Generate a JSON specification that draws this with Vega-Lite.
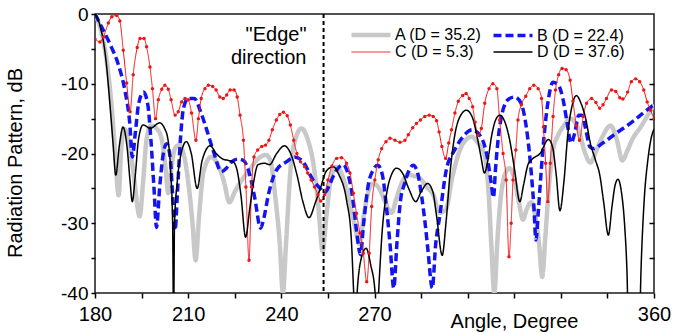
{
  "$schema": "https://vega.github.io/schema/vega-lite/v6.json",
  "width": 559,
  "height": 279,
  "autosize": {"type": "none"},
  "padding": {"left": 95, "top": 14, "right": 35, "bottom": 40},
  "background": "white",
  "config": {
    "font": "Liberation Sans",
    "view": {"stroke": "#1a1a1a", "strokeWidth": 1.5},
    "axis": {"labelColor": "black", "titleColor": "black", "tickColor": "black", "labelFont": "Liberation Sans", "titleFont": "Liberation Sans"}
  },
  "datasets": {
    "curves": [
      {"series": "A (D = 35.2)", "angle": 180, "dB": 0},
      {"series": "A (D = 35.2)", "angle": 182, "dB": -2.5},
      {"series": "A (D = 35.2)", "angle": 184, "dB": -7.5},
      {"series": "A (D = 35.2)", "angle": 185.5, "dB": -14},
      {"series": "A (D = 35.2)", "angle": 186.5, "dB": -20},
      {"series": "A (D = 35.2)", "angle": 187.6, "dB": -26},
      {"series": "A (D = 35.2)", "angle": 188.5, "dB": -19},
      {"series": "A (D = 35.2)", "angle": 189.5, "dB": -16.5},
      {"series": "A (D = 35.2)", "angle": 190.7, "dB": -18},
      {"series": "A (D = 35.2)", "angle": 192.3, "dB": -22.5},
      {"series": "A (D = 35.2)", "angle": 194.4, "dB": -29},
      {"series": "A (D = 35.2)", "angle": 195.5, "dB": -24},
      {"series": "A (D = 35.2)", "angle": 196.6, "dB": -18},
      {"series": "A (D = 35.2)", "angle": 198, "dB": -16},
      {"series": "A (D = 35.2)", "angle": 200, "dB": -16.5},
      {"series": "A (D = 35.2)", "angle": 201.5, "dB": -18},
      {"series": "A (D = 35.2)", "angle": 202.7, "dB": -22},
      {"series": "A (D = 35.2)", "angle": 203.6, "dB": -25.7},
      {"series": "A (D = 35.2)", "angle": 204.6, "dB": -22},
      {"series": "A (D = 35.2)", "angle": 205.7, "dB": -19.3},
      {"series": "A (D = 35.2)", "angle": 207, "dB": -18.8},
      {"series": "A (D = 35.2)", "angle": 208.5, "dB": -20},
      {"series": "A (D = 35.2)", "angle": 210, "dB": -24},
      {"series": "A (D = 35.2)", "angle": 211.4, "dB": -30},
      {"series": "A (D = 35.2)", "angle": 212.4, "dB": -35.3},
      {"series": "A (D = 35.2)", "angle": 213.5, "dB": -29},
      {"series": "A (D = 35.2)", "angle": 215, "dB": -22.5},
      {"series": "A (D = 35.2)", "angle": 217.4, "dB": -20.5},
      {"series": "A (D = 35.2)", "angle": 219.5, "dB": -21.5},
      {"series": "A (D = 35.2)", "angle": 221.5, "dB": -24},
      {"series": "A (D = 35.2)", "angle": 223.3, "dB": -27},
      {"series": "A (D = 35.2)", "angle": 225, "dB": -25.5},
      {"series": "A (D = 35.2)", "angle": 227, "dB": -24},
      {"series": "A (D = 35.2)", "angle": 229.5, "dB": -22.5},
      {"series": "A (D = 35.2)", "angle": 232, "dB": -21},
      {"series": "A (D = 35.2)", "angle": 235, "dB": -20.2},
      {"series": "A (D = 35.2)", "angle": 236.5, "dB": -21},
      {"series": "A (D = 35.2)", "angle": 238, "dB": -26},
      {"series": "A (D = 35.2)", "angle": 239.5, "dB": -33},
      {"series": "A (D = 35.2)", "angle": 240.5, "dB": -40},
      {"series": "A (D = 35.2)", "angle": 241.5, "dB": -33},
      {"series": "A (D = 35.2)", "angle": 243, "dB": -22},
      {"series": "A (D = 35.2)", "angle": 244.5, "dB": -18},
      {"series": "A (D = 35.2)", "angle": 246.5, "dB": -16.4},
      {"series": "A (D = 35.2)", "angle": 248.5, "dB": -18},
      {"series": "A (D = 35.2)", "angle": 250.5, "dB": -22},
      {"series": "A (D = 35.2)", "angle": 252, "dB": -28},
      {"series": "A (D = 35.2)", "angle": 253.3, "dB": -34},
      {"series": "A (D = 35.2)", "angle": 254.5, "dB": -29},
      {"series": "A (D = 35.2)", "angle": 256, "dB": -23.5},
      {"series": "A (D = 35.2)", "angle": 257.8, "dB": -21.9},
      {"series": "A (D = 35.2)", "angle": 259.5, "dB": -23},
      {"series": "A (D = 35.2)", "angle": 261.5, "dB": -26},
      {"series": "A (D = 35.2)", "angle": 263.5, "dB": -30},
      {"series": "A (D = 35.2)", "angle": 265.2, "dB": -33},
      {"series": "A (D = 35.2)", "angle": 266.5, "dB": -29},
      {"series": "A (D = 35.2)", "angle": 268, "dB": -25.5},
      {"series": "A (D = 35.2)", "angle": 269.5, "dB": -24.3},
      {"series": "A (D = 35.2)", "angle": 271.5, "dB": -25},
      {"series": "A (D = 35.2)", "angle": 273.5, "dB": -27},
      {"series": "A (D = 35.2)", "angle": 275.5, "dB": -28.5},
      {"series": "A (D = 35.2)", "angle": 277, "dB": -26.5},
      {"series": "A (D = 35.2)", "angle": 279, "dB": -24},
      {"series": "A (D = 35.2)", "angle": 281, "dB": -23},
      {"series": "A (D = 35.2)", "angle": 282.5, "dB": -23.2},
      {"series": "A (D = 35.2)", "angle": 284.5, "dB": -23.5},
      {"series": "A (D = 35.2)", "angle": 286.8, "dB": -24.8},
      {"series": "A (D = 35.2)", "angle": 289, "dB": -26},
      {"series": "A (D = 35.2)", "angle": 291, "dB": -28.5},
      {"series": "A (D = 35.2)", "angle": 293, "dB": -28},
      {"series": "A (D = 35.2)", "angle": 295, "dB": -23.5},
      {"series": "A (D = 35.2)", "angle": 297.5, "dB": -19.5},
      {"series": "A (D = 35.2)", "angle": 299.5, "dB": -18},
      {"series": "A (D = 35.2)", "angle": 301.3, "dB": -17.6},
      {"series": "A (D = 35.2)", "angle": 303.3, "dB": -18.5},
      {"series": "A (D = 35.2)", "angle": 305.5, "dB": -20.3},
      {"series": "A (D = 35.2)", "angle": 306.8, "dB": -26},
      {"series": "A (D = 35.2)", "angle": 307.6, "dB": -33},
      {"series": "A (D = 35.2)", "angle": 308.6, "dB": -40},
      {"series": "A (D = 35.2)", "angle": 309.5, "dB": -33},
      {"series": "A (D = 35.2)", "angle": 310.5, "dB": -27},
      {"series": "A (D = 35.2)", "angle": 312, "dB": -23},
      {"series": "A (D = 35.2)", "angle": 313.4, "dB": -22.1},
      {"series": "A (D = 35.2)", "angle": 315, "dB": -23.5},
      {"series": "A (D = 35.2)", "angle": 316.5, "dB": -27},
      {"series": "A (D = 35.2)", "angle": 317.8, "dB": -29.5},
      {"series": "A (D = 35.2)", "angle": 319, "dB": -28},
      {"series": "A (D = 35.2)", "angle": 320.5, "dB": -27},
      {"series": "A (D = 35.2)", "angle": 321.8, "dB": -29},
      {"series": "A (D = 35.2)", "angle": 323, "dB": -33},
      {"series": "A (D = 35.2)", "angle": 324, "dB": -37.7},
      {"series": "A (D = 35.2)", "angle": 325, "dB": -32},
      {"series": "A (D = 35.2)", "angle": 326.3, "dB": -24},
      {"series": "A (D = 35.2)", "angle": 327.5, "dB": -19.5},
      {"series": "A (D = 35.2)", "angle": 329.2, "dB": -17.3},
      {"series": "A (D = 35.2)", "angle": 331, "dB": -16},
      {"series": "A (D = 35.2)", "angle": 333, "dB": -15},
      {"series": "A (D = 35.2)", "angle": 334.5, "dB": -15.5},
      {"series": "A (D = 35.2)", "angle": 336, "dB": -17},
      {"series": "A (D = 35.2)", "angle": 337.5, "dB": -19.5},
      {"series": "A (D = 35.2)", "angle": 339.5, "dB": -21.3},
      {"series": "A (D = 35.2)", "angle": 341.5, "dB": -19.5},
      {"series": "A (D = 35.2)", "angle": 343.5, "dB": -17.5},
      {"series": "A (D = 35.2)", "angle": 346, "dB": -16},
      {"series": "A (D = 35.2)", "angle": 348, "dB": -18},
      {"series": "A (D = 35.2)", "angle": 349.8, "dB": -21},
      {"series": "A (D = 35.2)", "angle": 351.5, "dB": -19.5},
      {"series": "A (D = 35.2)", "angle": 353, "dB": -18},
      {"series": "A (D = 35.2)", "angle": 356, "dB": -16},
      {"series": "A (D = 35.2)", "angle": 358, "dB": -14.5},
      {"series": "A (D = 35.2)", "angle": 360, "dB": -13},

      {"series": "B (D = 22.4)", "angle": 180, "dB": 0},
      {"series": "B (D = 22.4)", "angle": 181.5, "dB": -1.3},
      {"series": "B (D = 22.4)", "angle": 184.7, "dB": -4.2},
      {"series": "B (D = 22.4)", "angle": 187.4, "dB": -7.1},
      {"series": "B (D = 22.4)", "angle": 189.6, "dB": -10.9},
      {"series": "B (D = 22.4)", "angle": 191.2, "dB": -15.7},
      {"series": "B (D = 22.4)", "angle": 192, "dB": -20.5},
      {"series": "B (D = 22.4)", "angle": 193, "dB": -17},
      {"series": "B (D = 22.4)", "angle": 194, "dB": -13},
      {"series": "B (D = 22.4)", "angle": 195.6, "dB": -11.2},
      {"series": "B (D = 22.4)", "angle": 197, "dB": -13},
      {"series": "B (D = 22.4)", "angle": 198, "dB": -18},
      {"series": "B (D = 22.4)", "angle": 199, "dB": -25},
      {"series": "B (D = 22.4)", "angle": 199.8, "dB": -30.6},
      {"series": "B (D = 22.4)", "angle": 200.8, "dB": -25},
      {"series": "B (D = 22.4)", "angle": 202, "dB": -20},
      {"series": "B (D = 22.4)", "angle": 203.1, "dB": -18.6},
      {"series": "B (D = 22.4)", "angle": 204.3, "dB": -21},
      {"series": "B (D = 22.4)", "angle": 205, "dB": -26},
      {"series": "B (D = 22.4)", "angle": 205.8, "dB": -31},
      {"series": "B (D = 22.4)", "angle": 206.5, "dB": -26},
      {"series": "B (D = 22.4)", "angle": 207.5, "dB": -18},
      {"series": "B (D = 22.4)", "angle": 208.5, "dB": -13.5},
      {"series": "B (D = 22.4)", "angle": 210, "dB": -12.1},
      {"series": "B (D = 22.4)", "angle": 212, "dB": -12.1},
      {"series": "B (D = 22.4)", "angle": 214, "dB": -14},
      {"series": "B (D = 22.4)", "angle": 215.9, "dB": -16.5},
      {"series": "B (D = 22.4)", "angle": 218, "dB": -19.5},
      {"series": "B (D = 22.4)", "angle": 220.7, "dB": -22.6},
      {"series": "B (D = 22.4)", "angle": 222.5, "dB": -22},
      {"series": "B (D = 22.4)", "angle": 224, "dB": -21.2},
      {"series": "B (D = 22.4)", "angle": 226, "dB": -20.8},
      {"series": "B (D = 22.4)", "angle": 227.8, "dB": -21},
      {"series": "B (D = 22.4)", "angle": 229.8, "dB": -23},
      {"series": "B (D = 22.4)", "angle": 231.5, "dB": -26.5},
      {"series": "B (D = 22.4)", "angle": 233.3, "dB": -30.7},
      {"series": "B (D = 22.4)", "angle": 234.5, "dB": -29},
      {"series": "B (D = 22.4)", "angle": 235.7, "dB": -26.2},
      {"series": "B (D = 22.4)", "angle": 238.4, "dB": -22.4},
      {"series": "B (D = 22.4)", "angle": 241.6, "dB": -21.2},
      {"series": "B (D = 22.4)", "angle": 244.3, "dB": -20.5},
      {"series": "B (D = 22.4)", "angle": 247, "dB": -21.2},
      {"series": "B (D = 22.4)", "angle": 250.2, "dB": -23.8},
      {"series": "B (D = 22.4)", "angle": 252.5, "dB": -25},
      {"series": "B (D = 22.4)", "angle": 254, "dB": -25.6},
      {"series": "B (D = 22.4)", "angle": 255.5, "dB": -24.5},
      {"series": "B (D = 22.4)", "angle": 257, "dB": -23},
      {"series": "B (D = 22.4)", "angle": 259.9, "dB": -21.6},
      {"series": "B (D = 22.4)", "angle": 261.5, "dB": -23},
      {"series": "B (D = 22.4)", "angle": 263, "dB": -26.5},
      {"series": "B (D = 22.4)", "angle": 264.2, "dB": -31},
      {"series": "B (D = 22.4)", "angle": 265.5, "dB": -34.5},
      {"series": "B (D = 22.4)", "angle": 266.5, "dB": -30},
      {"series": "B (D = 22.4)", "angle": 268, "dB": -24.5},
      {"series": "B (D = 22.4)", "angle": 269.5, "dB": -22.4},
      {"series": "B (D = 22.4)", "angle": 271, "dB": -21.7},
      {"series": "B (D = 22.4)", "angle": 272.5, "dB": -23},
      {"series": "B (D = 22.4)", "angle": 273.8, "dB": -27.5},
      {"series": "B (D = 22.4)", "angle": 275, "dB": -33},
      {"series": "B (D = 22.4)", "angle": 276.2, "dB": -39.3},
      {"series": "B (D = 22.4)", "angle": 277.2, "dB": -33},
      {"series": "B (D = 22.4)", "angle": 278.3, "dB": -27},
      {"series": "B (D = 22.4)", "angle": 279.7, "dB": -24.3},
      {"series": "B (D = 22.4)", "angle": 282.5, "dB": -21.7},
      {"series": "B (D = 22.4)", "angle": 284, "dB": -23},
      {"series": "B (D = 22.4)", "angle": 285.2, "dB": -26.2},
      {"series": "B (D = 22.4)", "angle": 286.3, "dB": -30},
      {"series": "B (D = 22.4)", "angle": 287.2, "dB": -33.8},
      {"series": "B (D = 22.4)", "angle": 288.6, "dB": -39.3},
      {"series": "B (D = 22.4)", "angle": 289.7, "dB": -33},
      {"series": "B (D = 22.4)", "angle": 291, "dB": -29},
      {"series": "B (D = 22.4)", "angle": 293.1, "dB": -22.4},
      {"series": "B (D = 22.4)", "angle": 295.8, "dB": -19.5},
      {"series": "B (D = 22.4)", "angle": 298.5, "dB": -17.6},
      {"series": "B (D = 22.4)", "angle": 301.5, "dB": -16.6},
      {"series": "B (D = 22.4)", "angle": 304.5, "dB": -17.8},
      {"series": "B (D = 22.4)", "angle": 306.3, "dB": -20.5},
      {"series": "B (D = 22.4)", "angle": 307.5, "dB": -24},
      {"series": "B (D = 22.4)", "angle": 308.3, "dB": -26.3},
      {"series": "B (D = 22.4)", "angle": 309, "dB": -22},
      {"series": "B (D = 22.4)", "angle": 310.3, "dB": -16.2},
      {"series": "B (D = 22.4)", "angle": 312.9, "dB": -12.3},
      {"series": "B (D = 22.4)", "angle": 315.1, "dB": -11.9},
      {"series": "B (D = 22.4)", "angle": 317.2, "dB": -12.8},
      {"series": "B (D = 22.4)", "angle": 318.8, "dB": -16},
      {"series": "B (D = 22.4)", "angle": 319.9, "dB": -20},
      {"series": "B (D = 22.4)", "angle": 321.3, "dB": -27.5},
      {"series": "B (D = 22.4)", "angle": 322, "dB": -32.4},
      {"series": "B (D = 22.4)", "angle": 322.8, "dB": -28},
      {"series": "B (D = 22.4)", "angle": 323.6, "dB": -23},
      {"series": "B (D = 22.4)", "angle": 324.5, "dB": -18},
      {"series": "B (D = 22.4)", "angle": 325.8, "dB": -12.8},
      {"series": "B (D = 22.4)", "angle": 327.5, "dB": -9.8},
      {"series": "B (D = 22.4)", "angle": 329.2, "dB": -10.2},
      {"series": "B (D = 22.4)", "angle": 330.6, "dB": -12},
      {"series": "B (D = 22.4)", "angle": 332, "dB": -15.5},
      {"series": "B (D = 22.4)", "angle": 333.3, "dB": -18.5},
      {"series": "B (D = 22.4)", "angle": 334.5, "dB": -17},
      {"series": "B (D = 22.4)", "angle": 335.8, "dB": -14.5},
      {"series": "B (D = 22.4)", "angle": 336.8, "dB": -14.5},
      {"series": "B (D = 22.4)", "angle": 338, "dB": -16.5},
      {"series": "B (D = 22.4)", "angle": 339.3, "dB": -19},
      {"series": "B (D = 22.4)", "angle": 340.5, "dB": -19.3},
      {"series": "B (D = 22.4)", "angle": 343.5, "dB": -18.5},
      {"series": "B (D = 22.4)", "angle": 347.8, "dB": -17.1},
      {"series": "B (D = 22.4)", "angle": 353.2, "dB": -15.4},
      {"series": "B (D = 22.4)", "angle": 356.5, "dB": -14.2},
      {"series": "B (D = 22.4)", "angle": 360, "dB": -13},

      {"series": "C (D = 5.3)", "angle": 180, "dB": -3.6},
      {"series": "C (D = 5.3)", "angle": 181.6, "dB": -4},
      {"series": "C (D = 5.3)", "angle": 182.7, "dB": -3.3},
      {"series": "C (D = 5.3)", "angle": 184.3, "dB": -1.3},
      {"series": "C (D = 5.3)", "angle": 185.4, "dB": -0.4},
      {"series": "C (D = 5.3)", "angle": 187, "dB": -0.2},
      {"series": "C (D = 5.3)", "angle": 188, "dB": -1},
      {"series": "C (D = 5.3)", "angle": 189.1, "dB": -5.2},
      {"series": "C (D = 5.3)", "angle": 190.2, "dB": -9.9},
      {"series": "C (D = 5.3)", "angle": 191.3, "dB": -14},
      {"series": "C (D = 5.3)", "angle": 192.3, "dB": -8.7},
      {"series": "C (D = 5.3)", "angle": 193.6, "dB": -4.8},
      {"series": "C (D = 5.3)", "angle": 194.5, "dB": -3.5},
      {"series": "C (D = 5.3)", "angle": 195.8, "dB": -3.5},
      {"series": "C (D = 5.3)", "angle": 196.6, "dB": -4.7},
      {"series": "C (D = 5.3)", "angle": 197.7, "dB": -7.6},
      {"series": "C (D = 5.3)", "angle": 198.5, "dB": -10.7},
      {"series": "C (D = 5.3)", "angle": 199.5, "dB": -15},
      {"series": "C (D = 5.3)", "angle": 200.4, "dB": -12.3},
      {"series": "C (D = 5.3)", "angle": 201.5, "dB": -10.8},
      {"series": "C (D = 5.3)", "angle": 202.5, "dB": -10.2},
      {"series": "C (D = 5.3)", "angle": 203.6, "dB": -10.8},
      {"series": "C (D = 5.3)", "angle": 204.5, "dB": -12.3},
      {"series": "C (D = 5.3)", "angle": 205.8, "dB": -14.5},
      {"series": "C (D = 5.3)", "angle": 206.8, "dB": -14},
      {"series": "C (D = 5.3)", "angle": 207.9, "dB": -12.6},
      {"series": "C (D = 5.3)", "angle": 209, "dB": -12.1},
      {"series": "C (D = 5.3)", "angle": 210, "dB": -12.3},
      {"series": "C (D = 5.3)", "angle": 211.1, "dB": -14.2},
      {"series": "C (D = 5.3)", "angle": 212.5, "dB": -18.1},
      {"series": "C (D = 5.3)", "angle": 213.3, "dB": -15},
      {"series": "C (D = 5.3)", "angle": 214.2, "dB": -12.1},
      {"series": "C (D = 5.3)", "angle": 215.4, "dB": -10.7},
      {"series": "C (D = 5.3)", "angle": 216.5, "dB": -10.2},
      {"series": "C (D = 5.3)", "angle": 217.9, "dB": -10.4},
      {"series": "C (D = 5.3)", "angle": 219, "dB": -10.9},
      {"series": "C (D = 5.3)", "angle": 220.2, "dB": -11.9},
      {"series": "C (D = 5.3)", "angle": 221.3, "dB": -12.1},
      {"series": "C (D = 5.3)", "angle": 222.4, "dB": -11.6},
      {"series": "C (D = 5.3)", "angle": 223.5, "dB": -10.9},
      {"series": "C (D = 5.3)", "angle": 224.8, "dB": -10.9},
      {"series": "C (D = 5.3)", "angle": 225.8, "dB": -11.9},
      {"series": "C (D = 5.3)", "angle": 226.7, "dB": -14.5},
      {"series": "C (D = 5.3)", "angle": 227.8, "dB": -18.1},
      {"series": "C (D = 5.3)", "angle": 228.6, "dB": -24.8},
      {"series": "C (D = 5.3)", "angle": 229.6, "dB": -35.3},
      {"series": "C (D = 5.3)", "angle": 230.4, "dB": -24.8},
      {"series": "C (D = 5.3)", "angle": 231.2, "dB": -20.5},
      {"series": "C (D = 5.3)", "angle": 232.4, "dB": -19.5},
      {"series": "C (D = 5.3)", "angle": 233.7, "dB": -19},
      {"series": "C (D = 5.3)", "angle": 234.9, "dB": -18.8},
      {"series": "C (D = 5.3)", "angle": 236, "dB": -18.1},
      {"series": "C (D = 5.3)", "angle": 237.1, "dB": -16.6},
      {"series": "C (D = 5.3)", "angle": 238.4, "dB": -15.2},
      {"series": "C (D = 5.3)", "angle": 239.5, "dB": -14.4},
      {"series": "C (D = 5.3)", "angle": 240.7, "dB": -14.1},
      {"series": "C (D = 5.3)", "angle": 241.9, "dB": -14.6},
      {"series": "C (D = 5.3)", "angle": 242.9, "dB": -15.9},
      {"series": "C (D = 5.3)", "angle": 244, "dB": -18.1},
      {"series": "C (D = 5.3)", "angle": 245, "dB": -20},
      {"series": "C (D = 5.3)", "angle": 246.2, "dB": -21.2},
      {"series": "C (D = 5.3)", "angle": 247.5, "dB": -21.9},
      {"series": "C (D = 5.3)", "angle": 248.5, "dB": -22.8},
      {"series": "C (D = 5.3)", "angle": 249.6, "dB": -23.8},
      {"series": "C (D = 5.3)", "angle": 250.7, "dB": -24.8},
      {"series": "C (D = 5.3)", "angle": 251.8, "dB": -25.9},
      {"series": "C (D = 5.3)", "angle": 252.7, "dB": -26.8},
      {"series": "C (D = 5.3)", "angle": 253.9, "dB": -25.9},
      {"series": "C (D = 5.3)", "angle": 255, "dB": -23.8},
      {"series": "C (D = 5.3)", "angle": 256.3, "dB": -21.8},
      {"series": "C (D = 5.3)", "angle": 257.8, "dB": -20.7},
      {"series": "C (D = 5.3)", "angle": 259.4, "dB": -20.6},
      {"series": "C (D = 5.3)", "angle": 261, "dB": -21.4},
      {"series": "C (D = 5.3)", "angle": 262.1, "dB": -22.8},
      {"series": "C (D = 5.3)", "angle": 263.2, "dB": -25.7},
      {"series": "C (D = 5.3)", "angle": 264.2, "dB": -28.6},
      {"series": "C (D = 5.3)", "angle": 265.3, "dB": -31.4},
      {"series": "C (D = 5.3)", "angle": 266.4, "dB": -34.3},
      {"series": "C (D = 5.3)", "angle": 267.5, "dB": -38.4},
      {"series": "C (D = 5.3)", "angle": 268.3, "dB": -34.3},
      {"series": "C (D = 5.3)", "angle": 269.1, "dB": -27.6},
      {"series": "C (D = 5.3)", "angle": 270.1, "dB": -23.8},
      {"series": "C (D = 5.3)", "angle": 271.2, "dB": -20.9},
      {"series": "C (D = 5.3)", "angle": 272.3, "dB": -19.3},
      {"series": "C (D = 5.3)", "angle": 273.7, "dB": -18.3},
      {"series": "C (D = 5.3)", "angle": 275, "dB": -17.8},
      {"series": "C (D = 5.3)", "angle": 276.6, "dB": -18.1},
      {"series": "C (D = 5.3)", "angle": 278.2, "dB": -18.4},
      {"series": "C (D = 5.3)", "angle": 279.8, "dB": -18.1},
      {"series": "C (D = 5.3)", "angle": 280.9, "dB": -17.3},
      {"series": "C (D = 5.3)", "angle": 282.3, "dB": -16.3},
      {"series": "C (D = 5.3)", "angle": 283.5, "dB": -15.7},
      {"series": "C (D = 5.3)", "angle": 284.8, "dB": -15.2},
      {"series": "C (D = 5.3)", "angle": 286.2, "dB": -14.7},
      {"series": "C (D = 5.3)", "angle": 287.6, "dB": -14.5},
      {"series": "C (D = 5.3)", "angle": 288.9, "dB": -14.7},
      {"series": "C (D = 5.3)", "angle": 290, "dB": -15.3},
      {"series": "C (D = 5.3)", "angle": 290.8, "dB": -16.9},
      {"series": "C (D = 5.3)", "angle": 291.7, "dB": -19},
      {"series": "C (D = 5.3)", "angle": 292.9, "dB": -20.7},
      {"series": "C (D = 5.3)", "angle": 293.9, "dB": -18.5},
      {"series": "C (D = 5.3)", "angle": 294.8, "dB": -16.6},
      {"series": "C (D = 5.3)", "angle": 295.9, "dB": -14.2},
      {"series": "C (D = 5.3)", "angle": 297, "dB": -12.5},
      {"series": "C (D = 5.3)", "angle": 298.4, "dB": -11.7},
      {"series": "C (D = 5.3)", "angle": 299.5, "dB": -11.4},
      {"series": "C (D = 5.3)", "angle": 300.5, "dB": -12.1},
      {"series": "C (D = 5.3)", "angle": 301.6, "dB": -13.3},
      {"series": "C (D = 5.3)", "angle": 302.4, "dB": -15.5},
      {"series": "C (D = 5.3)", "angle": 303.3, "dB": -17.4},
      {"series": "C (D = 5.3)", "angle": 304.4, "dB": -16.4},
      {"series": "C (D = 5.3)", "angle": 305.5, "dB": -12.8},
      {"series": "C (D = 5.3)", "angle": 306.9, "dB": -10.7},
      {"series": "C (D = 5.3)", "angle": 308.1, "dB": -10},
      {"series": "C (D = 5.3)", "angle": 309.4, "dB": -10.7},
      {"series": "C (D = 5.3)", "angle": 310.3, "dB": -15.2},
      {"series": "C (D = 5.3)", "angle": 311.4, "dB": -20},
      {"series": "C (D = 5.3)", "angle": 312.4, "dB": -23.8},
      {"series": "C (D = 5.3)", "angle": 313.3, "dB": -34.8},
      {"series": "C (D = 5.3)", "angle": 314, "dB": -30},
      {"series": "C (D = 5.3)", "angle": 314.6, "dB": -23.8},
      {"series": "C (D = 5.3)", "angle": 315.5, "dB": -19.5},
      {"series": "C (D = 5.3)", "angle": 316.2, "dB": -15.2},
      {"series": "C (D = 5.3)", "angle": 317.3, "dB": -13},
      {"series": "C (D = 5.3)", "angle": 318.7, "dB": -11.8},
      {"series": "C (D = 5.3)", "angle": 320, "dB": -10.7},
      {"series": "C (D = 5.3)", "angle": 321.3, "dB": -10.2},
      {"series": "C (D = 5.3)", "angle": 322.7, "dB": -10.7},
      {"series": "C (D = 5.3)", "angle": 323.8, "dB": -12.1},
      {"series": "C (D = 5.3)", "angle": 324.4, "dB": -16.2},
      {"series": "C (D = 5.3)", "angle": 325.1, "dB": -21.4},
      {"series": "C (D = 5.3)", "angle": 325.8, "dB": -26.9},
      {"series": "C (D = 5.3)", "angle": 326.6, "dB": -21.4},
      {"series": "C (D = 5.3)", "angle": 327.5, "dB": -14.7},
      {"series": "C (D = 5.3)", "angle": 328.3, "dB": -10.9},
      {"series": "C (D = 5.3)", "angle": 329.3, "dB": -8.7},
      {"series": "C (D = 5.3)", "angle": 330.4, "dB": -7.8},
      {"series": "C (D = 5.3)", "angle": 331.7, "dB": -8},
      {"series": "C (D = 5.3)", "angle": 333, "dB": -9.5},
      {"series": "C (D = 5.3)", "angle": 333.9, "dB": -12.5},
      {"series": "C (D = 5.3)", "angle": 335, "dB": -16},
      {"series": "C (D = 5.3)", "angle": 336, "dB": -18.1},
      {"series": "C (D = 5.3)", "angle": 337.2, "dB": -14.7},
      {"series": "C (D = 5.3)", "angle": 338.3, "dB": -12.8},
      {"series": "C (D = 5.3)", "angle": 339.9, "dB": -12.1},
      {"series": "C (D = 5.3)", "angle": 341.3, "dB": -12.7},
      {"series": "C (D = 5.3)", "angle": 342.5, "dB": -13.5},
      {"series": "C (D = 5.3)", "angle": 343.6, "dB": -13},
      {"series": "C (D = 5.3)", "angle": 344.7, "dB": -12.1},
      {"series": "C (D = 5.3)", "angle": 346.3, "dB": -10.9},
      {"series": "C (D = 5.3)", "angle": 347.7, "dB": -11.1},
      {"series": "C (D = 5.3)", "angle": 349, "dB": -12},
      {"series": "C (D = 5.3)", "angle": 350, "dB": -12.2},
      {"series": "C (D = 5.3)", "angle": 351.5, "dB": -11.2},
      {"series": "C (D = 5.3)", "angle": 352.7, "dB": -9.7},
      {"series": "C (D = 5.3)", "angle": 354.1, "dB": -9.3},
      {"series": "C (D = 5.3)", "angle": 355.4, "dB": -9.7},
      {"series": "C (D = 5.3)", "angle": 356.7, "dB": -10.9},
      {"series": "C (D = 5.3)", "angle": 357.8, "dB": -12.6},
      {"series": "C (D = 5.3)", "angle": 358.9, "dB": -13.8},
      {"series": "C (D = 5.3)", "angle": 360, "dB": -15},

      {"series": "D (D = 37.6)", "angle": 180, "dB": 0},
      {"series": "D (D = 37.6)", "angle": 181.5, "dB": -1.5},
      {"series": "D (D = 37.6)", "angle": 183.5, "dB": -6.5},
      {"series": "D (D = 37.6)", "angle": 185, "dB": -14},
      {"series": "D (D = 37.6)", "angle": 185.8, "dB": -18.5},
      {"series": "D (D = 37.6)", "angle": 186.7, "dB": -23.1},
      {"series": "D (D = 37.6)", "angle": 187.8, "dB": -19},
      {"series": "D (D = 37.6)", "angle": 189, "dB": -16.2},
      {"series": "D (D = 37.6)", "angle": 190.3, "dB": -19},
      {"series": "D (D = 37.6)", "angle": 191.3, "dB": -24},
      {"series": "D (D = 37.6)", "angle": 192, "dB": -26.9},
      {"series": "D (D = 37.6)", "angle": 193, "dB": -23},
      {"series": "D (D = 37.6)", "angle": 194, "dB": -18},
      {"series": "D (D = 37.6)", "angle": 195.5, "dB": -15.9},
      {"series": "D (D = 37.6)", "angle": 197.8, "dB": -16.4},
      {"series": "D (D = 37.6)", "angle": 200.8, "dB": -15.6},
      {"series": "D (D = 37.6)", "angle": 202.5, "dB": -16.5},
      {"series": "D (D = 37.6)", "angle": 203.5, "dB": -18},
      {"series": "D (D = 37.6)", "angle": 204.3, "dB": -22},
      {"series": "D (D = 37.6)", "angle": 205, "dB": -30},
      {"series": "D (D = 37.6)", "angle": 205.3, "dB": -45},
      {"series": "D (D = 37.6)", "angle": 205.6, "dB": -30},
      {"series": "D (D = 37.6)", "angle": 206.5, "dB": -24},
      {"series": "D (D = 37.6)", "angle": 207.5, "dB": -20.5},
      {"series": "D (D = 37.6)", "angle": 209.4, "dB": -18.3},
      {"series": "D (D = 37.6)", "angle": 211, "dB": -20},
      {"series": "D (D = 37.6)", "angle": 212.9, "dB": -25},
      {"series": "D (D = 37.6)", "angle": 214.5, "dB": -21},
      {"series": "D (D = 37.6)", "angle": 217.1, "dB": -18.9},
      {"series": "D (D = 37.6)", "angle": 219, "dB": -20},
      {"series": "D (D = 37.6)", "angle": 221.2, "dB": -20.8},
      {"series": "D (D = 37.6)", "angle": 223, "dB": -21},
      {"series": "D (D = 37.6)", "angle": 224.5, "dB": -21.2},
      {"series": "D (D = 37.6)", "angle": 225.8, "dB": -22.5},
      {"series": "D (D = 37.6)", "angle": 227, "dB": -26},
      {"series": "D (D = 37.6)", "angle": 228.5, "dB": -32},
      {"series": "D (D = 37.6)", "angle": 229.8, "dB": -28},
      {"series": "D (D = 37.6)", "angle": 231, "dB": -24.3},
      {"series": "D (D = 37.6)", "angle": 232.5, "dB": -21.6},
      {"series": "D (D = 37.6)", "angle": 234.6, "dB": -21.4},
      {"series": "D (D = 37.6)", "angle": 236.2, "dB": -21.6},
      {"series": "D (D = 37.6)", "angle": 238.5, "dB": -20},
      {"series": "D (D = 37.6)", "angle": 241, "dB": -18.9},
      {"series": "D (D = 37.6)", "angle": 243, "dB": -20},
      {"series": "D (D = 37.6)", "angle": 245, "dB": -23},
      {"series": "D (D = 37.6)", "angle": 247, "dB": -27},
      {"series": "D (D = 37.6)", "angle": 248.9, "dB": -29.2},
      {"series": "D (D = 37.6)", "angle": 251, "dB": -27},
      {"series": "D (D = 37.6)", "angle": 252.7, "dB": -24.8},
      {"series": "D (D = 37.6)", "angle": 254.5, "dB": -22.5},
      {"series": "D (D = 37.6)", "angle": 256.7, "dB": -21.9},
      {"series": "D (D = 37.6)", "angle": 258.5, "dB": -23},
      {"series": "D (D = 37.6)", "angle": 261, "dB": -26.7},
      {"series": "D (D = 37.6)", "angle": 262.5, "dB": -32},
      {"series": "D (D = 37.6)", "angle": 263.3, "dB": -40},
      {"series": "D (D = 37.6)", "angle": 263.8, "dB": -45},
      {"series": "D (D = 37.6)", "angle": 264.4, "dB": -40},
      {"series": "D (D = 37.6)", "angle": 265.5, "dB": -35.5},
      {"series": "D (D = 37.6)", "angle": 267.3, "dB": -33.6},
      {"series": "D (D = 37.6)", "angle": 268.8, "dB": -36},
      {"series": "D (D = 37.6)", "angle": 270.2, "dB": -40},
      {"series": "D (D = 37.6)", "angle": 270.7, "dB": -45},
      {"series": "D (D = 37.6)", "angle": 271.3, "dB": -40},
      {"series": "D (D = 37.6)", "angle": 272.5, "dB": -31},
      {"series": "D (D = 37.6)", "angle": 274, "dB": -25.5},
      {"series": "D (D = 37.6)", "angle": 275.5, "dB": -23},
      {"series": "D (D = 37.6)", "angle": 277.1, "dB": -22.1},
      {"series": "D (D = 37.6)", "angle": 279, "dB": -22.8},
      {"series": "D (D = 37.6)", "angle": 281, "dB": -25},
      {"series": "D (D = 37.6)", "angle": 283.3, "dB": -26.9},
      {"series": "D (D = 37.6)", "angle": 285, "dB": -25.5},
      {"series": "D (D = 37.6)", "angle": 287.1, "dB": -24.3},
      {"series": "D (D = 37.6)", "angle": 288.8, "dB": -25.5},
      {"series": "D (D = 37.6)", "angle": 290, "dB": -29},
      {"series": "D (D = 37.6)", "angle": 291.8, "dB": -34.6},
      {"series": "D (D = 37.6)", "angle": 293, "dB": -30},
      {"series": "D (D = 37.6)", "angle": 294.5, "dB": -22},
      {"series": "D (D = 37.6)", "angle": 296, "dB": -17},
      {"series": "D (D = 37.6)", "angle": 297.8, "dB": -14.5},
      {"series": "D (D = 37.6)", "angle": 299.6, "dB": -13.8},
      {"series": "D (D = 37.6)", "angle": 301.5, "dB": -14.8},
      {"series": "D (D = 37.6)", "angle": 303, "dB": -17.5},
      {"series": "D (D = 37.6)", "angle": 304.3, "dB": -20.5},
      {"series": "D (D = 37.6)", "angle": 305.4, "dB": -22.8},
      {"series": "D (D = 37.6)", "angle": 306.5, "dB": -21},
      {"series": "D (D = 37.6)", "angle": 307.7, "dB": -17.5},
      {"series": "D (D = 37.6)", "angle": 309, "dB": -15.2},
      {"series": "D (D = 37.6)", "angle": 310.4, "dB": -14.5},
      {"series": "D (D = 37.6)", "angle": 312, "dB": -15.5},
      {"series": "D (D = 37.6)", "angle": 313.5, "dB": -18},
      {"series": "D (D = 37.6)", "angle": 315, "dB": -22},
      {"series": "D (D = 37.6)", "angle": 316.8, "dB": -26.9},
      {"series": "D (D = 37.6)", "angle": 318, "dB": -24.5},
      {"series": "D (D = 37.6)", "angle": 319.5, "dB": -21.5},
      {"series": "D (D = 37.6)", "angle": 320.8, "dB": -20.8},
      {"series": "D (D = 37.6)", "angle": 323.3, "dB": -20},
      {"series": "D (D = 37.6)", "angle": 326, "dB": -18},
      {"series": "D (D = 37.6)", "angle": 327.3, "dB": -19},
      {"series": "D (D = 37.6)", "angle": 328.5, "dB": -23},
      {"series": "D (D = 37.6)", "angle": 329.7, "dB": -28.2},
      {"series": "D (D = 37.6)", "angle": 331, "dB": -24},
      {"series": "D (D = 37.6)", "angle": 332.3, "dB": -17},
      {"series": "D (D = 37.6)", "angle": 333.7, "dB": -13},
      {"series": "D (D = 37.6)", "angle": 335, "dB": -11.7},
      {"series": "D (D = 37.6)", "angle": 336.5, "dB": -12.8},
      {"series": "D (D = 37.6)", "angle": 338, "dB": -15},
      {"series": "D (D = 37.6)", "angle": 339.5, "dB": -18.5},
      {"series": "D (D = 37.6)", "angle": 341.2, "dB": -21},
      {"series": "D (D = 37.6)", "angle": 342.5, "dB": -23},
      {"series": "D (D = 37.6)", "angle": 343.8, "dB": -27},
      {"series": "D (D = 37.6)", "angle": 345.3, "dB": -31.7},
      {"series": "D (D = 37.6)", "angle": 346.5, "dB": -27.5},
      {"series": "D (D = 37.6)", "angle": 347.5, "dB": -24.5},
      {"series": "D (D = 37.6)", "angle": 348.4, "dB": -23.7},
      {"series": "D (D = 37.6)", "angle": 349.5, "dB": -25.5},
      {"series": "D (D = 37.6)", "angle": 350.5, "dB": -30},
      {"series": "D (D = 37.6)", "angle": 351.3, "dB": -37},
      {"series": "D (D = 37.6)", "angle": 351.8, "dB": -45},
      {"series": "D (D = 37.6)", "angle": 355.3, "dB": -45},
      {"series": "D (D = 37.6)", "angle": 355.8, "dB": -37},
      {"series": "D (D = 37.6)", "angle": 356.8, "dB": -27},
      {"series": "D (D = 37.6)", "angle": 358, "dB": -21},
      {"series": "D (D = 37.6)", "angle": 359, "dB": -18},
      {"series": "D (D = 37.6)", "angle": 360, "dB": -16.5}
    ]
  },
  "layer": [
    {
      "data": {"name": "curves"},
      "mark": {"type": "line", "interpolate": "monotone", "clip": true},
      "encoding": {
        "x": {
          "field": "angle", "type": "quantitative",
          "scale": {"domain": [180, 360], "nice": false, "zero": false},
          "axis": {
            "values": [180, 195, 210, 225, 240, 255, 270, 285, 300, 315, 330, 345, 360],
            "labelExpr": "(datum.value % 30 === 0 && datum.value !== 300 && datum.value !== 330) ? datum.label : ''",
            "tickSize": 5, "tickWidth": 1.5, "labelFontSize": 20, "labelPadding": 6,
            "labelFlush": false, "labelOverlap": false, "domain": false, "grid": false,
            "title": "Angle, Degree", "titleFontSize": 20, "titleFontWeight": "normal",
            "titleX": 419, "titleY": 34, "titleAlign": "center", "titleBaseline": "alphabetic"
          }
        },
        "y": {
          "field": "dB", "type": "quantitative",
          "scale": {"domain": [-40, 0], "nice": false, "zero": false},
          "axis": {
            "values": [-40, -35, -30, -25, -20, -15, -10, -5, 0],
            "labelExpr": "datum.value % 10 === 0 ? '' + datum.value : ''",
            "tickSize": 4, "tickWidth": 1.5, "labelFontSize": 19, "labelPadding": 3,
            "labelFlush": false, "labelOverlap": false, "domain": false, "grid": false,
            "title": "Radiation Pattern, dB", "titleFontSize": 20, "titleFontWeight": "normal",
            "titleAngle": 270, "titleX": -74, "titleY": 148.5, "titleAlign": "center", "titleBaseline": "alphabetic"
          }
        },
        "color": {
          "field": "series", "type": "nominal",
          "scale": {"domain": ["A (D = 35.2)", "C (D = 5.3)", "B (D = 22.4)", "D (D = 37.6)"], "range": ["#c8c8c8", "#f01414", "#1414ee", "#000000"]},
          "legend": {
            "title": null, "orient": "none", "legendX": 268, "legendY": 13, "columns": 2, "direction": "vertical",
            "columnPadding": 4, "rowPadding": -18, "symbolType": "stroke", "symbolSize": 1521,
            "labelFontSize": 16, "labelOffset": 16, "padding": 0, "labelColor": "black", "labelFont": "Liberation Sans",
            "encode": {"symbols": {"update": {"strokeWidth": {"signal": "datum.value === 'A (D = 35.2)' ? 4.5 : datum.value === 'B (D = 22.4)' ? 3.5 : datum.value === 'D (D = 37.6)' ? 1.5 : 1"}}}}
          }
        },
        "strokeDash": {
          "field": "series", "type": "nominal",
          "scale": {"domain": ["A (D = 35.2)", "C (D = 5.3)", "B (D = 22.4)", "D (D = 37.6)"], "range": [[1, 0], [1, 0], [8, 4], [1, 0]]}
        },
        "strokeWidth": {
          "condition": [
            {"test": "datum.series === 'A (D = 35.2)'", "value": 4.5},
            {"test": "datum.series === 'B (D = 22.4)'", "value": 3.5},
            {"test": "datum.series === 'D (D = 37.6)'", "value": 1.5}
          ],
          "value": 1
        }
      }
    },
    {
      "data": {"name": "curves"},
      "transform": [{"filter": "datum.series === 'C (D = 5.3)'"}],
      "mark": {"type": "point", "filled": true, "size": 12, "color": "#f01414", "opacity": 1, "clip": true},
      "encoding": {
        "x": {"field": "angle", "type": "quantitative"},
        "y": {
          "field": "dB", "type": "quantitative",
          "axis": {"orient": "right", "values": [-35, -30, -25, -20, -15, -10, -5], "labels": false, "tickSize": -5, "tickWidth": 1.5, "domain": false, "grid": false, "title": null}
        }
      }
    },
    {
      "data": {"values": [{}]},
      "mark": {"type": "rule", "color": "black", "strokeDash": [4, 3], "strokeWidth": 2},
      "encoding": {"x": {"datum": 253.6}}
    },
    {
      "data": {"values": [{}]},
      "mark": {"type": "text", "text": ["\"Edge\"", "direction"], "align": "right", "baseline": "alphabetic", "fontSize": 20, "lineHeight": 23.5, "color": "black", "font": "Liberation Sans"},
      "encoding": {"x": {"datum": 248.1}, "y": {"datum": -3.87, "axis": null}}
    }
  ],
  "resolve": {"axis": {"y": "independent"}}
}
